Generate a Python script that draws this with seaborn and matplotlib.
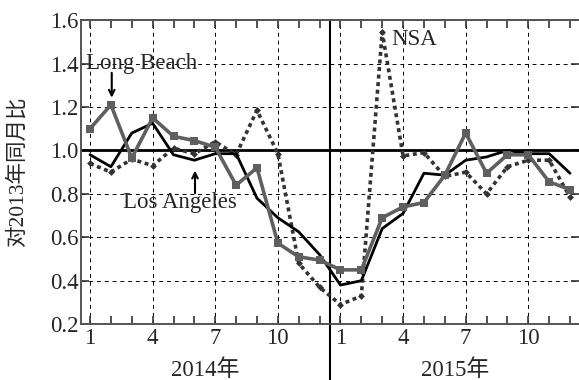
import pandas as pd
import seaborn as sns
import matplotlib.pyplot as plt
from matplotlib.ticker import FixedLocator, MultipleLocator

# months 1..24 = Jan 2014 .. Dec 2015
months = list(range(1, 25))
major_months = [1, 4, 7, 10, 13, 16, 19, 22]
month_labels = ["1", "4", "7", "10", "1", "4", "7", "10"]
year_labels = ["2014年", "2015年"]
year_centers = [6.5, 18.5]

los_angeles = [0.98, 0.925, 1.08, 1.125, 0.98, 0.955, 0.985, 0.985, 0.78, 0.69, 0.625, 0.52,
               0.38, 0.40, 0.64, 0.71, 0.895, 0.886, 0.955, 0.97, 1.0, 0.985, 0.985, 0.895]
long_beach = [1.10, 1.21, 0.965, 1.15, 1.065, 1.045, 1.015, 0.84, 0.92, 0.573, 0.51, 0.495,
              0.45, 0.45, 0.69, 0.74, 0.76, 0.886, 1.08, 0.895, 0.98, 0.98, 0.855, 0.82]
nsa = [0.94, 0.90, 0.96, 0.93, 1.01, 0.985, 1.04, 0.98, 1.185, 0.985, 0.48, 0.37,
       0.29, 0.33, 1.545, 0.975, 0.99, 0.88, 0.90, 0.80, 0.925, 0.955, 0.955, 0.785]

sns.set_style("ticks")
plt.rcParams["font.family"] = ["Liberation Serif", "Noto Sans CJK SC"]

fig = plt.figure(figsize=(5.79, 3.80), dpi=100)
ax = fig.add_axes([0.140, 0.147, 0.860, 0.800])

# reference line at 1.0 and the year divider
ax.axhline(1.0, color="black", lw=2.0, zorder=2)
ax.axvline(12.5, ymin=-0.19, ymax=1, color="black", lw=1.5, clip_on=False, zorder=2)

sns.lineplot(x=months, y=nsa, ax=ax, color="#333333", lw=2.6,
             linestyle=(0, (1.1, 1.0)), marker="D", markersize=3.5,
             markeredgewidth=0, zorder=3)
sns.lineplot(x=months, y=los_angeles, ax=ax, color="black", lw=2.0, zorder=4)
sns.lineplot(x=months, y=long_beach, ax=ax, color="#5f5f5f", lw=2.6,
             marker="s", markersize=5.5, markeredgewidth=0, zorder=5)

ax.set_xlim(0.57, 24.43)
ax.set_ylim(0.2, 1.6)

ax.xaxis.set_major_locator(FixedLocator(major_months))
ax.set_xticklabels(month_labels)
ax.xaxis.set_minor_locator(MultipleLocator(1))
ax.yaxis.set_major_locator(MultipleLocator(0.2))
ax.yaxis.set_major_formatter(plt.FormatStrFormatter("%.1f"))

ax.tick_params(axis="both", which="both", direction="in", top=True, right=True,
               length=6, width=1.2, color="#333333", labelsize=16.5)
ax.tick_params(axis="x", pad=3)
ax.tick_params(axis="y", pad=2)

ax.grid(True, which="major", color="black", lw=0.7, linestyle=(0, (4, 4)))

for side in ["left", "bottom", "top"]:
    ax.spines[side].set_color("#555555")
    ax.spines[side].set_linewidth(1.4)
ax.spines["right"].set_visible(False)

for label, xc in zip(year_labels, year_centers):
    ax.text(xc, -0.15, label, transform=ax.get_xaxis_transform(),
            ha="center", va="center", fontsize=16.5)

ax.set_ylabel("对2013年同月比", fontsize=15.5)
ax.yaxis.set_label_coords(-0.108, 0.5)

# series labels with arrows
ax.annotate("", xy=(2.04, 1.23), xytext=(2.04, 1.37),
            arrowprops=dict(arrowstyle="->", color="black", lw=1.5))
ax.text(0.8, 1.40, "Long Beach", fontsize=16.5, ha="left", va="center")
ax.annotate("", xy=(6.03, 0.92), xytext=(6.03, 0.79),
            arrowprops=dict(arrowstyle="->", color="black", lw=1.5))
ax.text(5.3, 0.76, "Los Angeles", fontsize=16.5, ha="center", va="center")
ax.text(15.45, 1.51, "NSA", fontsize=16.5, ha="left", va="center")

fig.savefig("out.png", dpi=100)
